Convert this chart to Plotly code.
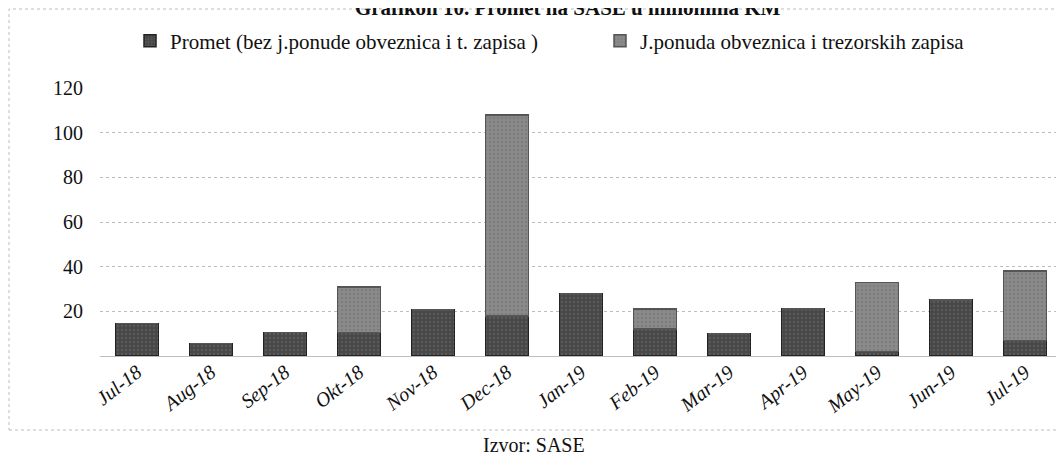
"""
Stacked bar chart: SASE turnover in millions KM, Jul-18 to Jul-19
"""

import plotly.graph_objects as go

months = ["Jul-18", "Aug-18", "Sep-18", "Okt-18", "Nov-18", "Dec-18", "Jan-19",
          "Feb-19", "Mar-19", "Apr-19", "May-19", "Jun-19", "Jul-19"]
promet = [14.5, 5.5, 10.5, 10.5, 20.5, 18, 28, 12, 10, 21, 2, 25, 7]
jponuda = [0, 0, 0, 20.5, 0, 90, 0, 9, 0, 0, 31, 0, 31]
y_ticks = [20, 40, 60, 80, 100, 120]

FONT = "Liberation Serif"
# page body has an 8px margin, so the figure is drawn 8px smaller
W, H = 1056, 449
L, R, T, B = 92, 2, 80, 101

fig = go.Figure()
fig.add_trace(go.Bar(x=months, y=promet, name="Promet (bez j.ponude obveznica i t. zapisa )",
                     marker=dict(color="#474747", line=dict(color="#222", width=1.5),
                                 pattern=dict(shape=".", fgcolor="#6a6a6a", size=4, solidity=0.3))))
fig.add_trace(go.Bar(x=months, y=jponuda, name="J.ponuda obveznica i trezorskih zapisa",
                     marker=dict(color="#8a8a8a", line=dict(color="#555", width=1.5),
                                 pattern=dict(shape=".", fgcolor="#6f6f6f", size=4, solidity=0.3))))

# paper coords for the dotted frame around the chart
pw, ph = W - L - R, H - T - B
fx0, fx1 = (1 - L) / pw, (1054 - L) / pw
fy0, fy1 = (H - B - 422) / ph, (H - B - 1) / ph

fig.update_layout(
    width=W, height=H,
    barmode="stack", bargap=0.42,
    plot_bgcolor="white", paper_bgcolor="white",
    margin=dict(l=L, r=R, t=T, b=B, autoexpand=False),
    font=dict(family=FONT, size=18, color="#111"),
    title=dict(text="<b>Grafikon 10. Promet na SASE u milionima KM</b>",
               x=0.53, xanchor="center", y=1.0, yanchor="middle", yref="container",
               font=dict(size=21, family=FONT)),
    legend=dict(orientation="h", traceorder="normal", x=(122 - L) / pw, xanchor="left",
                y=(H - B - 33) / ph, yanchor="middle",
                font=dict(size=21, family=FONT), itemwidth=30,
                entrywidth=425, entrywidthmode="pixels"),
    xaxis=dict(tickangle=-38, tickfont=dict(size=20, style="italic"),
               showgrid=False, showline=False, ticks=""),
    yaxis=dict(range=[0, 120], tickvals=y_ticks, showgrid=True,
               gridcolor="#bdbdbd", griddash="dot", gridwidth=1,
               zeroline=True, zerolinecolor="#bdbdbd", zerolinewidth=1,
               ticklabelstandoff=16, tickfont=dict(size=20)),
    shapes=[dict(type="rect", xref="paper", yref="paper", x0=fx0, x1=fx1, y0=fy0, y1=fy1,
                 line=dict(color="#bdbdbd", width=1, dash="dot"), layer="below")],
    annotations=[dict(text="Izvor: SASE", xref="paper", yref="paper",
                      x=(526 - L) / pw, y=(H - B - 437) / ph, showarrow=False,
                      xanchor="center", yanchor="middle",
                      font=dict(size=20, family=FONT))],
)

fig.write_html("out.html")
